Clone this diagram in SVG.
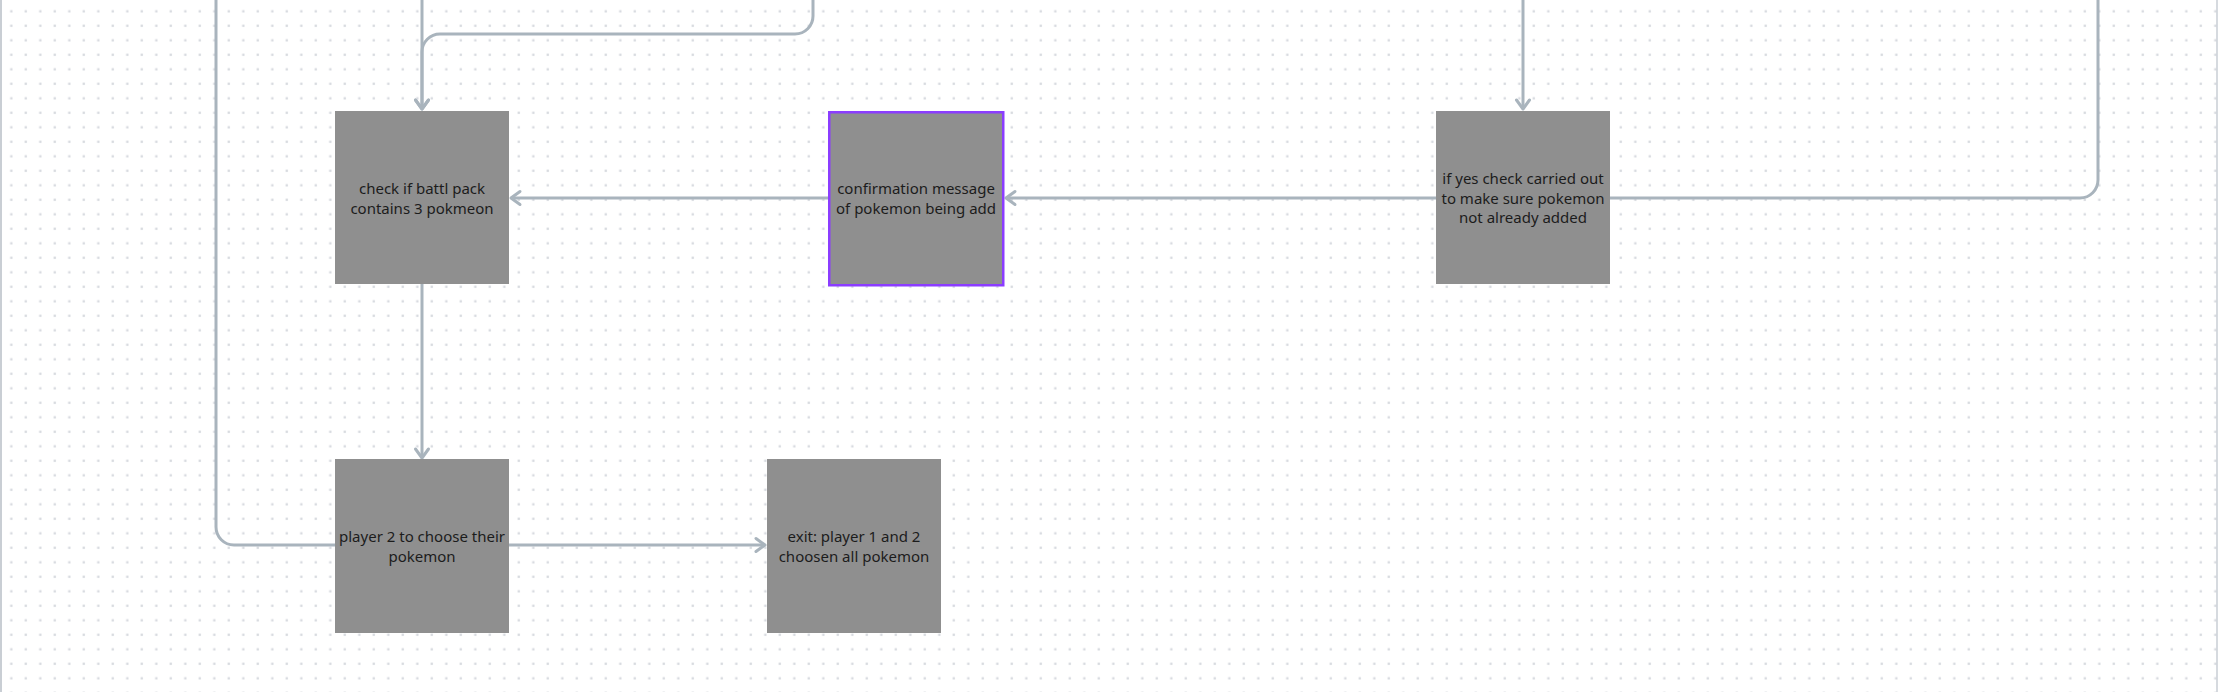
<svg xmlns="http://www.w3.org/2000/svg" width="2218" height="692" viewBox="0 0 2218 692">
  <defs>
    <pattern id="dots" patternUnits="userSpaceOnUse" x="0" y="0" width="14.5" height="14.5">
      <rect x="10.2" y="10.2" width="2.2" height="2.2" fill="#d3d6dc"/>
    </pattern>
    <marker id="arr" markerUnits="userSpaceOnUse" viewBox="-12 -9 15 18" markerWidth="15" markerHeight="18" refX="0" refY="0" orient="auto">
      <path d="M-9,-6.5 L0,0 L-9,6.5" fill="none" stroke="#a9b4bd" stroke-width="3" stroke-linecap="round" stroke-linejoin="round"/>
    </marker>
    <style>
      .conn { fill: none; stroke: #a9b4bd; stroke-width: 3; }
      .box { fill: #8f8f8f; }
      .sel { stroke: #8b3dff; stroke-width: 2.5; }
      .lbl { font-family: "Noto Sans", "Liberation Sans", sans-serif; font-size: 15px; fill: #1c1c1c; text-anchor: middle; }
    </style>
  </defs>
  <rect x="0" y="0" width="2218" height="692" fill="#ffffff"/>
  <rect x="0" y="0" width="2218" height="692" fill="url(#dots)"/>
  <line x1="1" y1="0" x2="1" y2="692" stroke="#b7bec6" stroke-width="1.5"/>
  <line x1="2217" y1="0" x2="2217" y2="692" stroke="#c9ced4" stroke-width="1.5"/>

  <g id="connectors">
    <path class="conn" d="M335,545 H234 A18,18 0 0 1 216,527 V-5"/>
    <path class="conn" d="M422,-5 V109" marker-end="url(#arr)"/>
    <path class="conn" d="M813,-5 V16 A18,18 0 0 1 795,34 H440 A18,18 0 0 0 422,52 V109" marker-end="url(#arr)"/>
    <path class="conn" d="M829,198 H511" marker-end="url(#arr)"/>
    <path class="conn" d="M1436,198 H1006" marker-end="url(#arr)"/>
    <path class="conn" d="M1610,198 H2080 A18,18 0 0 0 2098,180 V-5"/>
    <path class="conn" d="M1523,-5 V109" marker-end="url(#arr)"/>
    <path class="conn" d="M422,284 V458" marker-end="url(#arr)"/>
    <path class="conn" d="M509,545 H765" marker-end="url(#arr)"/>
  </g>

  <g id="node-check-pack">
    <rect class="box" x="335" y="111" width="174" height="173"/>
    <text class="lbl" x="422" y="194">check if battl pack</text>
    <text class="lbl" x="422" y="213.5">contains 3 pokmeon</text>
  </g>
  <g id="node-confirmation">
    <rect class="box sel" x="829.25" y="112.25" width="174" height="173"/>
    <text class="lbl" x="916" y="194">confirmation message</text>
    <text class="lbl" x="916" y="213.5">of pokemon being add</text>
  </g>
  <g id="node-if-yes">
    <rect class="box" x="1436" y="111" width="174" height="173"/>
    <text class="lbl" x="1523" y="184">if yes check carried out</text>
    <text class="lbl" x="1523" y="203.5">to make sure pokemon</text>
    <text class="lbl" x="1523" y="223">not already added</text>
  </g>
  <g id="node-player2">
    <rect class="box" x="335" y="459" width="174" height="174"/>
    <text class="lbl" x="422" y="542">player 2 to choose their</text>
    <text class="lbl" x="422" y="561.5">pokemon</text>
  </g>
  <g id="node-exit">
    <rect class="box" x="767" y="459" width="174" height="174"/>
    <text class="lbl" x="854" y="542">exit: player 1 and 2</text>
    <text class="lbl" x="854" y="561.5">choosen all pokemon</text>
  </g>
</svg>
